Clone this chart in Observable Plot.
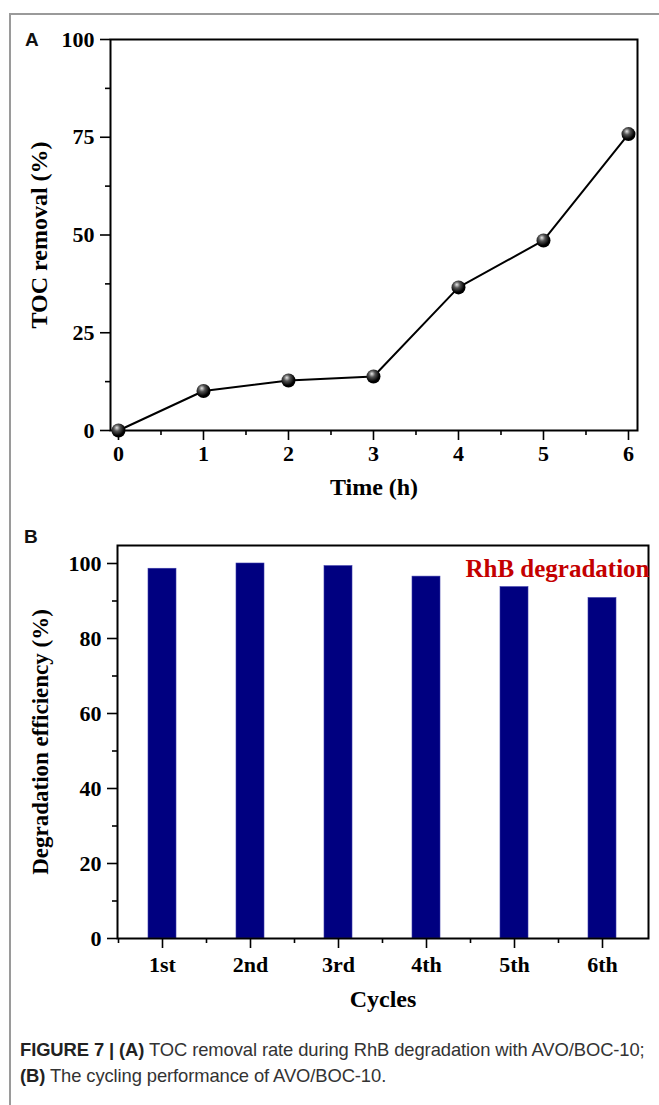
<!DOCTYPE html>
<html><head><meta charset="utf-8">
<script src="https://cdn.jsdelivr.net/npm/d3@7"></script>
<script src="https://cdn.jsdelivr.net/npm/@observablehq/plot@0.6"></script>
<style>
body{margin:0;background:#fff;width:659px;height:1105px;position:relative;overflow:hidden}
#border{position:absolute;left:9px;top:13px;width:700px;height:1200px;border-left:2px solid #9a9a9a;border-top:2px solid #9a9a9a}
.panel{position:absolute;font:bold 19px "Liberation Sans",Arial,sans-serif;color:#111}
#chartA{position:absolute;left:0;top:0}
#chartB{position:absolute;left:0;top:500px}
#caption{position:absolute;left:20px;top:1037px;font:18.4px "Liberation Sans",Arial,sans-serif;color:#333;line-height:26px;white-space:nowrap;letter-spacing:-0.1px}
#caption b{color:#222}
</style>
</head><body>
<div id="border"></div>
<div id="chartA"></div>
<div id="chartB"></div>
<div class="panel" style="left:25px;top:29px">A</div>
<div class="panel" style="left:24px;top:526px">B</div>
<div id="caption"><b>FIGURE 7 | (A)</b> TOC removal rate during RhB degradation with AVO/BOC-10;<br><b>(B)</b> The cycling performance of AVO/BOC-10.</div>
<script>
// Panel A data
const hours = [0, 1, 2, 3, 4, 5, 6];
const tocRemoval = [0, 10.1, 12.8, 13.8, 36.6, 48.6, 75.8];
const tocTicks = [0, 25, 50, 75, 100];
const tocMinorTicks = [12.5, 37.5, 62.5, 87.5];
const hourMinorTicks = [0.5, 1.5, 2.5, 3.5, 4.5, 5.5];

// Panel B data
const cycles = ["1st", "2nd", "3rd", "4th", "5th", "6th"];
const efficiency = [98.6, 100.0, 99.3, 96.5, 93.7, 90.8];
const effTicks = [0, 20, 40, 60, 80, 100];
const effMinorTicks = [10, 30, 50, 70, 90];
const seriesLabel = "RhB degradation";

const serif = '"Liberation Serif","Times New Roman",serif';
const blank = () => "";

const tocData = hours.map((h, i) => ({h, v: tocRemoval[i]}));
const effData = cycles.map((c, i) => ({c, v: efficiency[i]}));

const chartA = Plot.plot({
  width: 659, height: 500,
  marginLeft: 110, marginRight: 22, marginTop: 39, marginBottom: 70,
  style: {fontFamily: serif, fontWeight: "bold", fontSize: "22px", color: "#000", background: "transparent"},
  x: {domain: [-0.094, 6.106]},
  y: {domain: [0, 100]},
  marks: [
    Plot.axisY({ticks: tocMinorTicks, tickSize: 5, tickFormat: blank, strokeWidth: 1.6, label: null}),
    Plot.axisY({ticks: tocTicks, tickSize: 10, tickPadding: 6, strokeWidth: 1.6, label: null, fontSize: 22}),
    Plot.axisX({ticks: hourMinorTicks, tickSize: 5, tickFormat: blank, strokeWidth: 1.6, label: null}),
    Plot.axisX({ticks: hours, tickSize: 10, tickPadding: 5, strokeWidth: 1.6, label: null, fontSize: 22, tickFormat: d3.format("d")}),
    Plot.frame({stroke: "#000", strokeWidth: 2}),
    Plot.line(tocData, {x: "h", y: "v", stroke: "#000", strokeWidth: 2}),
    Plot.dot(tocData, {x: "h", y: "v", r: 7, fill: "url(#ballGrad)", stroke: "none"}),
    Plot.text(["Time (h)"], {frameAnchor: "bottom", dy: 64, fontSize: 24, fontWeight: "bold", fontFamily: serif}),
    Plot.text(["TOC removal (%)"], {frameAnchor: "left", rotate: -90, textAnchor: "middle", dx: -71, fontSize: 24, fontWeight: "bold", fontFamily: serif})
  ]
});
const svgA = chartA.tagName === "svg" ? chartA : chartA.querySelector("svg");
const defs = d3.select(svgA).insert("defs", ":first-child");
const g = defs.append("radialGradient").attr("id", "ballGrad").attr("cx", "0.4").attr("cy", "0.35").attr("r", "0.65").attr("fx", "0.38").attr("fy", "0.3");
g.append("stop").attr("offset", "0").attr("stop-color", "#e8e8e8");
g.append("stop").attr("offset", "0.35").attr("stop-color", "#555");
g.append("stop").attr("offset", "0.8").attr("stop-color", "#000");
document.getElementById("chartA").appendChild(chartA);

const chartB = Plot.plot({
  width: 659, height: 530,
  marginLeft: 117, marginRight: 11, marginTop: 45, marginBottom: 92,
  style: {fontFamily: serif, fontWeight: "bold", fontSize: "22px", color: "#000", background: "transparent"},
  x: {domain: cycles, paddingInner: 0.68, paddingOuter: 0.357},
  y: {domain: [0, 104.8]},
  marks: [
    Plot.barY(effData, {x: "c", y: "v", fill: "#000080", stroke: "#3a3aa8", strokeWidth: 0.6}),
    Plot.axisY({ticks: effMinorTicks, tickSize: 5, tickFormat: blank, strokeWidth: 1.6, label: null}),
    Plot.axisY({ticks: effTicks, tickSize: 10, tickPadding: 6, strokeWidth: 1.6, label: null, fontSize: 22}),
    Plot.axisX({tickSize: 5, dx: -44, tickFormat: blank, strokeWidth: 1.6, label: null}),
    Plot.axisX({tickSize: 10, tickPadding: 8, strokeWidth: 1.6, label: null, fontSize: 22}),
    Plot.frame({stroke: "#000", strokeWidth: 2}),
    Plot.text([seriesLabel], {frameAnchor: "top-right", dx: 1, dy: 14, fontSize: 25, fontWeight: "bold", fill: "#c40000", fontFamily: serif}),
    Plot.text(["Cycles"], {frameAnchor: "bottom", dy: 68, fontSize: 24, fontWeight: "bold", fontFamily: serif}),
    Plot.text(["Degradation efficiency (%)"], {frameAnchor: "left", rotate: -90, textAnchor: "middle", dx: -77, fontSize: 23, fontWeight: "bold", fontFamily: serif})
  ]
});
document.getElementById("chartB").appendChild(chartB);
</script>
</body></html>
